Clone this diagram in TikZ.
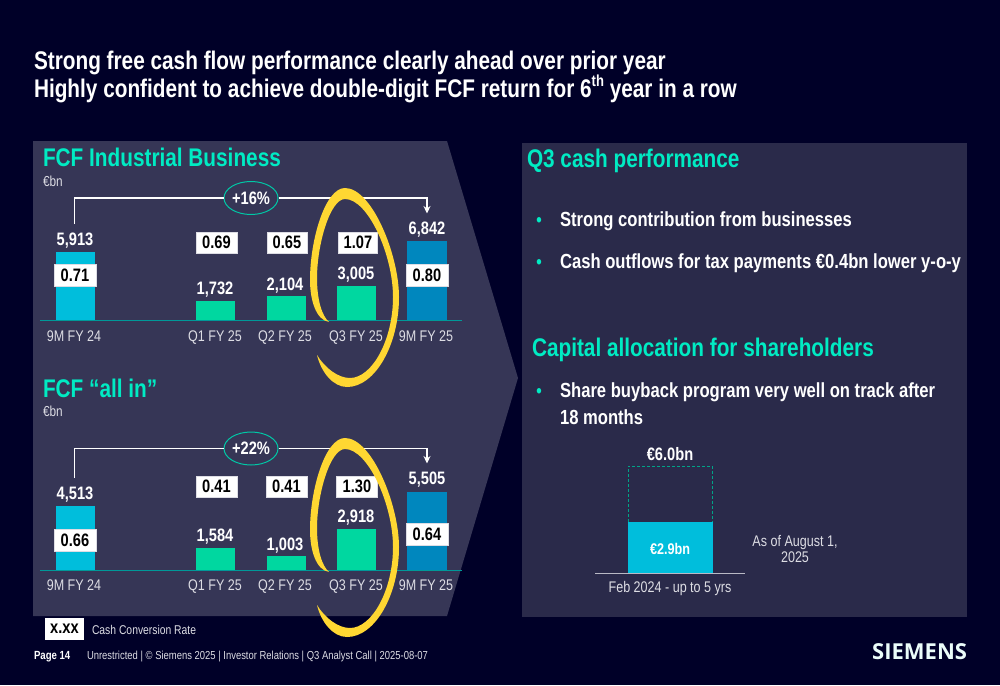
\documentclass[tikz,border=0pt]{standalone}
\usepackage{fontspec}
\setmainfont[FakeStretch=0.815]{Liberation Sans}
\newfontfamily\logofont{Open Sans}
\usetikzlibrary{shapes.geometric,arrows.meta}
\definecolor{bgc}{HTML}{000028}
\definecolor{panL}{HTML}{363656}
\definecolor{panR}{HTML}{2A2A4A}
\definecolor{mint}{HTML}{00EBC3}
\definecolor{cyanb}{HTML}{00BEDC}
\definecolor{greenb}{HTML}{00D7A0}
\definecolor{blueb}{HTML}{0087BE}
\definecolor{yell}{HTML}{FFD732}
\definecolor{axisc}{HTML}{009999}
\definecolor{lab}{HTML}{DDDDE4}
\newcommand{\fsz}[1]{\fontsize{#1}{#1}\selectfont}
\tikzset{
 txt/.style={inner sep=0pt,outer sep=0pt,text=white},
 heading/.style={txt,anchor=base west,font=\fsz{25.5}\bfseries},
 section/.style={txt,anchor=base west,text=mint,font=\fsz{25.5}\bfseries},
 unitlab/.style={txt,anchor=base west,text=lab,font=\fsz{14.5}},
 val/.style={txt,anchor=base,font=\fsz{18}\bfseries},
 cat/.style={txt,anchor=base,text=lab,font=\fsz{15.4}},
 ratio/.style={fill=white,draw=lab,line width=0.4pt,inner sep=0pt,minimum height=21.5pt,text=black,font=\fsz{18}\bfseries},
 growth/.style={ellipse,draw=mint!85!black,line width=1pt,fill=panL,text=white,inner sep=0pt,minimum width=54pt,minimum height=33pt,font=\fsz{18}\bfseries},
 conn/.style={draw=white,line width=1.1pt},
 bullet/.style={txt,anchor=base west,font=\fsz{20.4}\bfseries},
 dotb/.style={txt,anchor=base,text=mint,font=\fsz{19}\bfseries},
}
\newcommand{\crescent}[1]{%
 \fill[yell,shift={(0,#1)}] (329,322)
  .. controls (316,320) and (310,300) .. (310,280)
  .. controls (310,240) and (325,188) .. (345,188)
  .. controls (372,188) and (399,255) .. (399,297)
  .. controls (399,345) and (375,387) .. (347,387)
  .. controls (333,387) and (321,372) .. (317,355)
  .. controls (325,368) and (338,378) .. (350,378)
  .. controls (372,378) and (393,340) .. (393,297)
  .. controls (393,255) and (368,199) .. (345,199)
  .. controls (330,199) and (317,245) .. (317,278)
  .. controls (317,300) and (322,316) .. (329,322) -- cycle;}
\newcommand{\barr}[5]{\fill[#1] (#2,#3) rectangle (#4,#5);}
\begin{document}
\begin{tikzpicture}[x=1pt,y=-1pt]
\useasboundingbox (0,0) rectangle (1000,685);
\fill[bgc] (0,0) rectangle (1000,685);
% panels
\fill[panL] (33,141) -- (447,141) -- (518,378) -- (447,616) -- (33,616) -- cycle;
\fill[panR] (522,143) rectangle (967,617);
% title
\node[heading] (t1) at (34,70) {Strong free cash flow performance clearly ahead over prior year};
\node[heading] (t2) at (34,97) {Highly confident to achieve double-digit FCF return for 6\raisebox{0.42em}{\fsz{16}th} year in a row};
% chart 1
\node[section] (s1) at (43,166) {FCF Industrial Business};
\node[unitlab] (u1) at (43,186) {€bn};
\barr{cyanb}{55.5}{252}{94.5}{320}
\barr{greenb}{196}{301}{235}{320}
\barr{greenb}{266.5}{296}{305.5}{320}
\barr{greenb}{337}{286}{376}{320}
\barr{blueb}{407}{241}{447}{320}
\coordinate (a1l) at (40,320.5); \coordinate (a1r) at (462,320.5);
\draw[axisc,line width=0.9pt] (a1l) -- (a1r);
\node[val] (v11) at (75,245) {5,913};
\node[val] (v12) at (215,294) {1,732};
\node[val] (v13) at (285,290) {2,104};
\node[val] (v14) at (356,279) {3,005};
\node[val] (v15) at (427,234) {6,842};
\node[ratio,minimum width=42pt] (r11) at (75,275) {0.71};
\node[ratio,minimum width=41pt] (r12) at (216.5,242.5) {0.69};
\node[ratio,minimum width=40pt] (r13) at (287,242.5) {0.65};
\node[ratio,minimum width=39pt] (r14) at (358,242.5) {1.07};
\node[ratio,minimum width=42pt] (r15) at (427,275) {0.80};
\foreach \x/\n/\t in {74/1/9M FY 24,215/2/Q1 FY 25,285/3/Q2 FY 25,356/4/Q3 FY 25,426/5/9M FY 25}
  \node[cat] (c1\n) at (\x,341) {\t};
\node[growth] (g1) at (251,198) {+16\%};
\coordinate (b1s) at (74.5,224); \coordinate (b1e) at (427,213.5);
\draw[conn] (b1s) |- (g1.west);
\draw[conn,-{Stealth[length=7.5pt,width=7pt]}] (g1.east) -| (b1e);
% chart 2
\node[section] (s2) at (43,397) {FCF “all in”};
\node[unitlab] (u2) at (43,416) {€bn};
\barr{cyanb}{55.5}{505.5}{94.5}{571}
\barr{greenb}{196}{548}{235}{571}
\barr{greenb}{266.5}{556}{305.5}{571}
\barr{greenb}{337}{529}{376}{571}
\barr{blueb}{407}{491.5}{447}{571}
\coordinate (a2l) at (40,570.7); \coordinate (a2r) at (462,570.7);
\draw[axisc,line width=0.9pt] (a2l) -- (a2r);
\node[val] (v21) at (75,499) {4,513};
\node[val] (v22) at (215,541) {1,584};
\node[val] (v23) at (285,550) {1,003};
\node[val] (v24) at (356,522) {2,918};
\node[val] (v25) at (427,484) {5,505};
\node[ratio,minimum width=42pt] (r21) at (75,540) {0.66};
\node[ratio,minimum width=41pt] (r22) at (216.5,486.5) {0.41};
\node[ratio,minimum width=41pt] (r23) at (286.5,486.5) {0.41};
\node[ratio,minimum width=41pt] (r24) at (357,486.5) {1.30};
\node[ratio,minimum width=42pt] (r25) at (427,534) {0.64};
\foreach \x/\n/\t in {74/1/9M FY 24,215/2/Q1 FY 25,285/3/Q2 FY 25,356/4/Q3 FY 25,426/5/9M FY 25}
  \node[cat] (c2\n) at (\x,590) {\t};
\node[growth] (g2) at (251,448.5) {+22\%};
\coordinate (b2s) at (74.5,478); \coordinate (b2e) at (427,463.5);
\draw[conn] (b2s) |- (g2.west);
\draw[conn,-{Stealth[length=7.5pt,width=7pt]}] (g2.east) -| (b2e);
% highlight rings
\crescent{0}
\crescent{250}
% legend and footer
\node[fill=white,inner sep=0pt,minimum width=39pt,minimum height=22pt,text=black,font=\fsz{18}\bfseries] (lg) at (64.5,629) {x.xx};
\node[txt,anchor=base west,text=lab,font=\fsz{12.7}] (lgt) at (92,634) {Cash Conversion Rate};
\node[txt,anchor=base west,font=\fsz{11.8}\bfseries] (pg) at (34,659) {Page 14};
\node[txt,anchor=base west,text=lab,font=\fsz{11.6}] (ft) at (87,659) {Unrestricted | © Siemens 2025 | Investor Relations | Q3 Analyst Call | 2025-08-07};
\node[txt,anchor=base east,font=\logofont\fsz{22}\bfseries,text=white!92!mint] (logo) at (967,659) {SIEMENS};
% right panel
\node[section] (s3) at (527,167) {Q3 cash performance};
\node[dotb] (d1) at (539,226) {•};
\node[bullet] (b1) at (560,226) {Strong contribution from businesses};
\node[dotb] (d2) at (539,268) {•};
\node[bullet] (b2) at (560,268) {Cash outflows for tax payments €0.4bn lower y-o-y};
\node[section] (s4) at (532,356) {Capital allocation for shareholders};
\node[dotb] (d3) at (539,397) {•};
\node[bullet] (b3) at (560,397) {Share buyback program very well on track after};
\node[bullet] (b3b) at (560,424) {18 months};
\node[val] (tot) at (670,460) {€6.0bn};
\draw[mint!70!black,densely dashed,line width=0.7pt] (628,522) |- (712.5,466) -- (712.5,522);
\fill[cyanb] (628,522) rectangle (712.5,573);
\node[txt,font=\fsz{15.5}\bfseries] (bv) at (670,548.5) {€2.9bn};
\coordinate (a3l) at (595,573); \coordinate (a3r) at (745,573);
\draw[lab!80!panR,line width=1pt] (a3l) -- (a3r);
\node[cat] (fb) at (670,592) {Feb 2024 - up to 5 yrs};
\node[cat] (as1) at (795,546) {As of August 1,};
\node[cat] (as2) at (795,562) {2025};
\end{tikzpicture}
\end{document}
